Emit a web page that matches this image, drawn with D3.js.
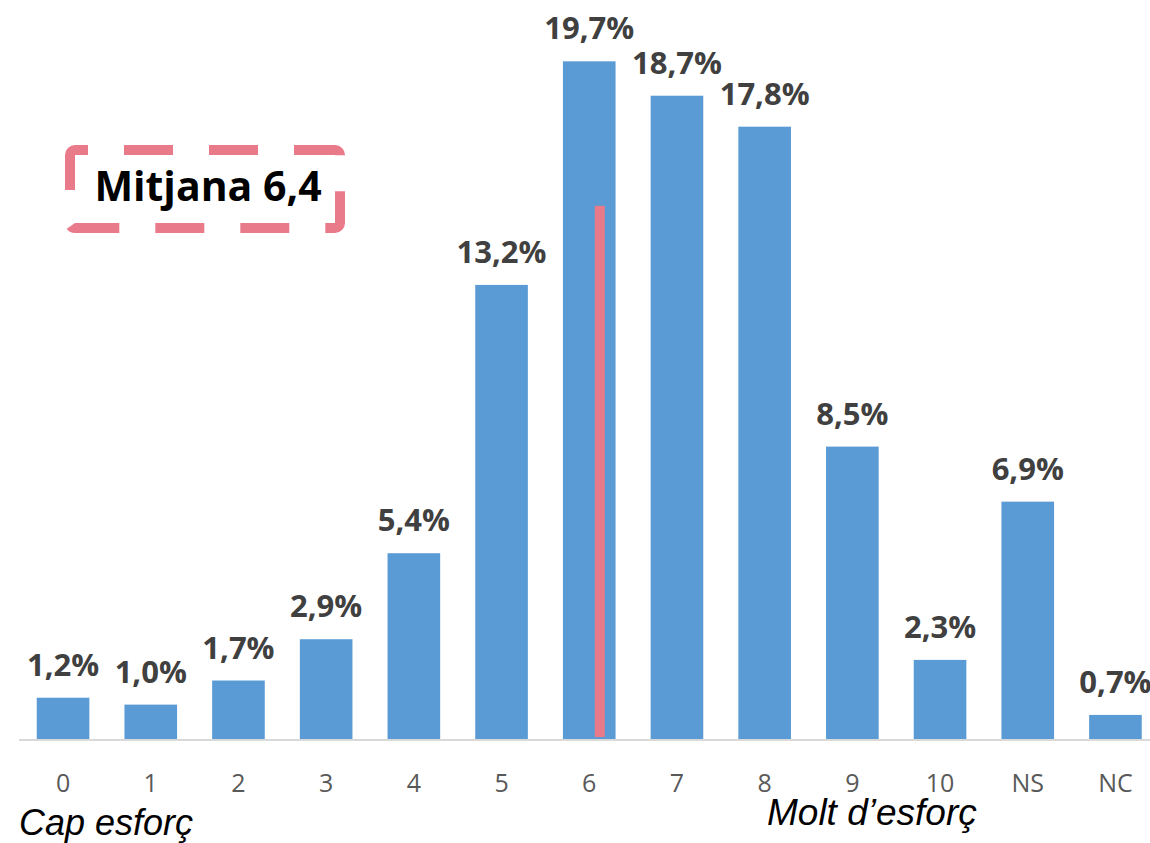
<!DOCTYPE html>
<html>
<head>
<meta charset="utf-8">
<script src="https://cdn.jsdelivr.net/npm/d3@7"></script>
<style>
  html, body { margin: 0; padding: 0; background: #fff; }
  svg { display: block; }
</style>
</head>
<body>
<div id="chart"></div>
<script>
// Data
const categories = ['0', '1', '2', '3', '4', '5', '6', '7', '8', '9', '10', 'NS', 'NC'];
const values = [1.2, 1.0, 1.7, 2.9, 5.4, 13.2, 19.7, 18.7, 17.8, 8.5, 2.3, 6.9, 0.7];
const meanLabel = 'Mitjana 6,4';
const lowLabel = 'Cap esforç';
const highLabel = 'Molt d\u2019esforç';

const width = 1150;
const height = 843;
const baseline = 739;

const svg = d3.select('#chart').append('svg')
    .attr('width', width)
    .attr('height', height);

svg.append('rect').attr('width', width).attr('height', height).attr('fill', '#fff');

const x = d3.scaleBand()
    .domain(categories)
    .range([19.2, 19.2 + 13 * 87.7])
    .paddingInner(0.4)
    .paddingOuter(0.2);

// 34.4px per percentage point
const y = d3.scaleLinear()
    .domain([0, 20])
    .range([baseline, baseline - 20 * 34.4]);

const fmt = v => d3.format('.1f')(v).replace('.', ',') + '%';

// bars
svg.append('g').selectAll('rect.bar')
    .data(values)
    .enter().append('rect')
        .attr('class', 'bar')
        .attr('x', (d, i) => x(categories[i]))
        .attr('y', d => y(d))
        .attr('width', x.bandwidth())
        .attr('height', d => y(0) - y(d))
        .attr('fill', '#5b9bd5');

// baseline
svg.append('line')
    .attr('x1', 19).attr('x2', width)
    .attr('y1', baseline + 1).attr('y2', baseline + 1)
    .attr('stroke', '#d9d9d9')
    .attr('stroke-width', 2);

// value labels
svg.append('g').selectAll('text')
    .data(values)
    .enter().append('text')
        .attr('x', (d, i) => x(categories[i]) + x.bandwidth() / 2)
        .attr('y', d => y(d) - 22)
        .attr('text-anchor', 'middle')
        .attr('font-family', '"Open Sans", sans-serif')
        .attr('font-weight', 'bold')
        .attr('font-size', 31)
        .attr('fill', '#404040')
        .text(fmt);

// category ticks
svg.append('g').selectAll('text')
    .data(categories)
    .enter().append('text')
        .attr('x', d => x(d) + x.bandwidth() / 2)
        .attr('y', 792)
        .attr('text-anchor', 'middle')
        .attr('font-family', '"Open Sans", sans-serif')
        .attr('font-size', 25)
        .attr('fill', '#595959')
        .text(d => d);

// mean marker line (inside bar 6)
const meanTop = 15.5;
svg.append('rect')
    .attr('x', x('6') + x.bandwidth() * 0.7 - 5)
    .attr('y', y(meanTop))
    .attr('width', 10)
    .attr('height', y(0) - y(meanTop) - 2)
    .attr('fill', '#e97a8a');

// mean box
svg.append('rect')
    .attr('x', 70).attr('y', 150)
    .attr('width', 270).attr('height', 78)
    .attr('rx', 5)
    .attr('fill', 'none')
    .attr('stroke', '#e97a8a')
    .attr('stroke-width', 10)
    .attr('stroke-dasharray', '49 36')
    .attr('stroke-dashoffset', 36);

svg.append('text')
    .attr('x', 208).attr('y', 201)
    .attr('text-anchor', 'middle')
    .attr('font-family', '"Open Sans", sans-serif')
    .attr('font-weight', 'bold')
    .attr('font-size', 41)
    .attr('fill', '#000')
    .text(meanLabel);

// scale end labels
svg.append('text')
    .attr('x', 19).attr('y', 835)
    .attr('font-family', '"Liberation Sans", Arial, sans-serif')
    .attr('font-style', 'italic')
    .attr('font-size', 36)
    .attr('fill', '#000')
    .text(lowLabel);

svg.append('text')
    .attr('x', 767).attr('y', 825)
    .attr('font-family', '"Liberation Sans", Arial, sans-serif')
    .attr('font-style', 'italic')
    .attr('font-size', 37)
    .attr('fill', '#000')
    .text(highLabel);
</script>
</body>
</html>
